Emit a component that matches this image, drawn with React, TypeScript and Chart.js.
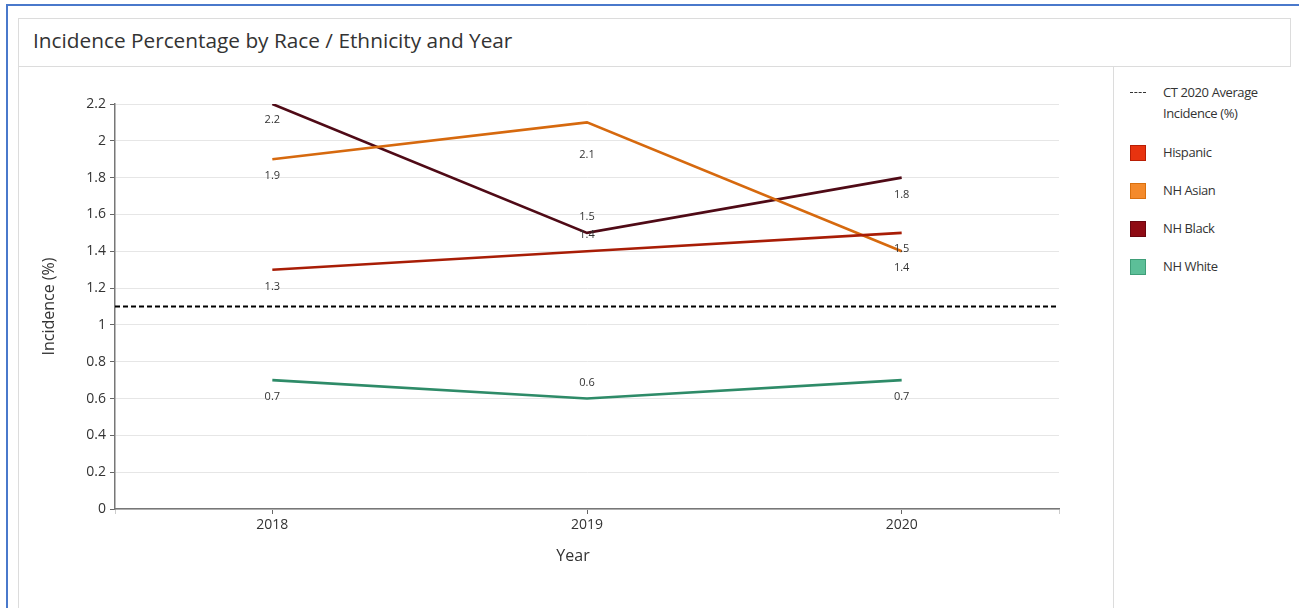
import React, { useEffect, useRef } from "react";
import { Chart, registerables } from "chart.js";

Chart.register(...registerables);

// ---- data ----
const years = [2018, 2019, 2020];
const hispanic = [1.3, 1.4, 1.5];
const nhAsian = [1.9, 2.1, 1.4];
const nhBlack = [2.2, 1.5, 1.8];
const nhWhite = [0.7, 0.6, 0.7];
const ctAverage = 1.1;
const xRange = [2017.5, 2020.5];
const yMin = 0;
const yMax = 2.2;
const yStep = 0.2;
const chartTitle = "Incidence Percentage by Race / Ethnicity and Year";
const yTitle = "Incidence (%)";
const xTitle = "Year";
const avgName = ["CT 2020 Average", "Incidence (%)"];
const seriesNames = ["Hispanic", "NH Asian", "NH Black", "NH White"];

// ---- styles ----
const lineColors = ["#a81d06", "#d6690e", "#4f0a16", "#2e8b68"];
const legendColors = ["#e8330f", "#f48a2b", "#8f0b14", "#5cbf98"];
const legendBorders = ["#b81e05", "#d9700f", "#6a0610", "#3f9e78"];
// vertical offsets of value labels (px), per series per year
const labelOffsets = [
  [17, -16, 16],
  [17, 32, 17],
  [16, -16, 17],
  [17, -16, 17],
];
const FONT = "'Open Sans', 'Noto Sans', sans-serif";

const valueLabels = {
  id: "valueLabels",
  afterDatasetsDraw(chart: any) {
    const ctx = chart.ctx;
    ctx.save();
    ctx.font = `11px ${FONT}`;
    ctx.fillStyle = "#333";
    ctx.textAlign = "center";
    ctx.textBaseline = "middle";
    chart.data.datasets.forEach((ds: any, i: number) => {
      if (ds.seriesIndex === undefined) return;
      const meta = chart.getDatasetMeta(i);
      meta.data.forEach((pt: any, j: number) => {
        const v = ds.data[j].y;
        ctx.fillText(String(v), pt.x, pt.y + labelOffsets[ds.seriesIndex][j]);
      });
    });
    ctx.restore();
  },
};

// x-axis title, centred on the whole canvas like the original
const xTitlePlugin = {
  id: "xTitlePlugin",
  afterDraw(chart: any) {
    const ctx = chart.ctx;
    ctx.save();
    ctx.font = `16px ${FONT}`;
    ctx.fillStyle = "#333";
    ctx.textAlign = "center";
    ctx.textBaseline = "middle";
    ctx.fillText(xTitle, chart.width / 2 + 7, chart.chartArea.bottom + 47);
    ctx.restore();
  },
};

function ChartCanvas() {
  const ref = useRef<HTMLCanvasElement | null>(null);
  useEffect(() => {
    if (!ref.current) return;
    const series = [hispanic, nhAsian, nhBlack, nhWhite];
    const datasets: any[] = series.map((vals, si) => ({
      label: seriesNames[si],
      seriesIndex: si,
      data: years.map((x, i) => ({ x, y: vals[i] })),
      borderColor: lineColors[si],
      backgroundColor: lineColors[si],
      borderWidth: 2.6,
      pointRadius: 0,
      tension: 0,
    }));
    datasets.push({
      label: avgName.join(" "),
      data: xRange.map((x) => ({ x, y: ctAverage })),
      borderColor: "#000",
      borderWidth: 2,
      borderDash: [5, 3],
      pointRadius: 0,
    });
    const chart = new Chart(ref.current, {
      type: "line",
      data: { datasets },
      plugins: [valueLabels, xTitlePlugin],
      options: {
        animation: false,
        responsive: false,
        maintainAspectRatio: false,
        layout: { padding: { left: 0, right: 54, top: 37, bottom: 0 } },
        plugins: { legend: { display: false }, tooltip: { enabled: false } },
        scales: {
          x: {
            type: "linear",
            min: xRange[0],
            max: xRange[1],
            afterFit: (s: any) => {
              s.height = 99;
            },
            afterBuildTicks: (s: any) => {
              s.ticks = [xRange[0], ...years, xRange[1]].map((value) => ({ value }));
            },
            ticks: {
              padding: 3,
              color: "#333",
              autoSkip: false,
              maxRotation: 0,
              font: { family: FONT, size: 14 },
              callback: (v: any) => (Number.isInteger(v) ? String(v) : ""),
            },
            grid: {
              drawOnChartArea: false,
              tickLength: 5,
              tickColor: (c: any) =>
                c.tick && Number.isInteger(c.tick.value) ? "#666" : "#ccc",
            },
            border: { color: "#777", width: 1.5 },
            title: { display: false },
          },
          y: {
            min: yMin,
            max: yMax,
            afterFit: (s: any) => {
              s.width = 96;
            },
            ticks: {
              stepSize: yStep,
              padding: 4,
              color: "#333",
              font: { family: FONT, size: 14 },
              callback: (v: any) => String(Number(Number(v).toFixed(1))),
            },
            grid: { color: "#e6e6e6", tickLength: 5, tickColor: "#666" },
            border: { color: "#777", width: 1.5 },
            title: {
              display: true,
              text: yTitle,
              color: "#333",
              font: { family: FONT, size: 16 },
              padding: { top: 21, bottom: 0 },
            },
          },
        },
      } as any,
    });
    return () => chart.destroy();
  }, []);
  return <canvas ref={ref} width={1094} height={541} style={{ display: "block" }} />;
}

export default function App() {
  const abs = (s: React.CSSProperties): React.CSSProperties => ({ position: "absolute", ...s });
  const itemY = [153, 191, 229, 267];
  return (
    <div
      style={{
        position: "fixed",
        left: 0,
        top: 0,
        width: 1299,
        height: 608,
        overflow: "hidden",
        background: "#fff",
        fontFamily: FONT,
      }}
    >
      {/* outer blue frame */}
      <div style={abs({ left: 6, top: 4, width: 1400, height: 700, borderLeft: "2px solid #4a79cb", borderTop: "2px solid #4a79cb" })} />
      {/* card left border */}
      <div style={abs({ left: 18, top: 18, width: 1, height: 700, background: "#dcdcdc" })} />
      {/* header */}
      <div
        style={abs({
          left: 18,
          top: 18,
          width: 1271,
          height: 47,
          border: "1px solid #dcdcdc",
          boxSizing: "content-box",
        })}
      />
      <div
        style={abs({
          left: 33,
          top: 25,
          height: 30,
          lineHeight: "30px",
          fontSize: 20.8,
          color: "#333",
          whiteSpace: "nowrap",
        })}
      >
        {chartTitle}
      </div>
      {/* legend divider */}
      <div style={abs({ left: 1113, top: 66, width: 1, height: 600, background: "#dcdcdc" })} />
      {/* chart */}
      <div style={abs({ left: 19, top: 67, width: 1094, height: 541 })}>
        <ChartCanvas />
      </div>
      {/* legend */}
      <div style={abs({ left: 1130, top: 92, width: 16, height: 0, borderTop: "1px dashed #333" })} />
      <div style={abs({ left: 1163, top: 82, fontSize: 13, lineHeight: "21px", color: "#333", letterSpacing: -0.4, whiteSpace: "nowrap" })}>
        {avgName[0]}
        <br />
        {avgName[1]}
      </div>
      {seriesNames.map((n, i) => (
        <React.Fragment key={n}>
          <div
            style={abs({
              left: 1130,
              top: itemY[i] - 8,
              width: 14,
              height: 14,
              background: legendColors[i],
              border: `1px solid ${legendBorders[i]}`,
            })}
          />
          <div
            style={abs({
              left: 1163,
              top: itemY[i] - 11,
              fontSize: 13,
              lineHeight: "21px",
              color: "#333",
              letterSpacing: -0.4,
              whiteSpace: "nowrap",
            })}
          >
            {n}
          </div>
        </React.Fragment>
      ))}
    </div>
  );
}
